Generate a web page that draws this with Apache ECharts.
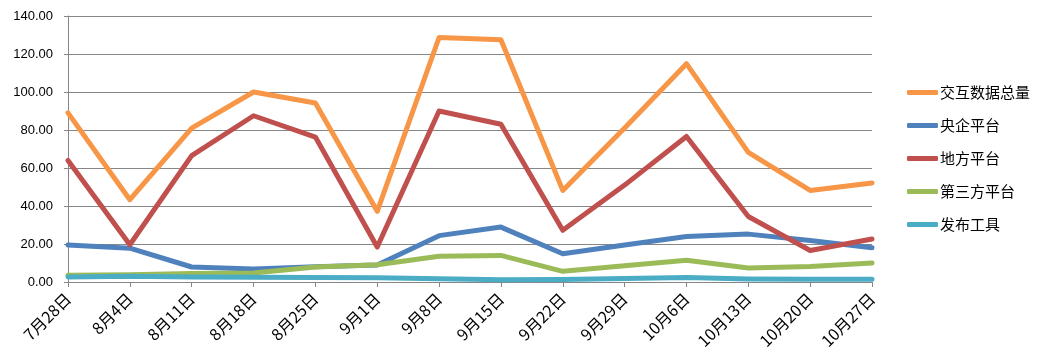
<!DOCTYPE html>
<html>
<head>
<meta charset="utf-8">
<script src="https://cdn.jsdelivr.net/npm/echarts@6/dist/echarts.min.js"></script>
<style>
html,body{margin:0;padding:0;background:#fff;}
#chart{width:1039px;height:358px;}
</style>
</head>
<body>
<div id="chart"></div>
<script>
const categories = ['7月28日','8月4日','8月11日','8月18日','8月25日','9月1日','9月8日','9月15日','9月22日','9月29日','10月6日','10月13日','10月20日','10月27日'];
const seriesNames = ['交互数据总量','央企平台','地方平台','第三方平台','发布工具'];
const totalData    = [89, 43.3, 81, 100, 94.2, 37.2, 128.7, 127.5, 48.2, 81, 114.9, 68.2, 48.2, 52.1];
const centralData  = [19.5, 17.8, 7.9, 6.8, 8, 9, 24.4, 28.9, 14.9, 19.5, 24, 25.2, 21.9, 18];
const localData    = [64, 19.6, 66.5, 87.5, 76.3, 18.4, 90, 83, 27.2, 51, 76.6, 34.5, 16.6, 22.6];
const thirdData    = [3.5, 3.8, 4.5, 4.7, 7.9, 9.1, 13.5, 14, 5.6, 8.5, 11.4, 7.4, 8.2, 10];
const toolData     = [2.6, 3, 2.6, 2.5, 2.4, 2.2, 1.7, 1.2, 1.3, 1.8, 2.4, 1.6, 1.5, 1.5];
const yTicks = {min: 0, max: 140, interval: 20};
const colors = ['#F79646', '#4F81BD', '#C0504D', '#9BBB59', '#4BACC6'];

const dataSets = [totalData, centralData, localData, thirdData, toolData];
const chart = echarts.init(document.getElementById('chart'), null, {renderer: 'canvas'});
const font = 'Liberation Sans, Arial, sans-serif';
chart.setOption({
  animation: false,
  color: colors,
  grid: {left: 68, right: 167, top: 16, bottom: 76, containLabel: false},
  legend: {
    orient: 'vertical',
    left: 902,
    top: 80,
    itemWidth: 31,
    itemHeight: 5,
    itemGap: 18,
    icon: 'roundRect',
    textStyle: {fontSize: 15, color: '#000', fontFamily: 'Noto Sans CJK SC, sans-serif', padding: [0,0,0,-3]},
    data: seriesNames
  },
  xAxis: {
    type: 'category',
    data: categories,
    boundaryGap: false,
    axisLine: {show: true, lineStyle: {color: '#868686', width: 1}},
    axisTick: {show: true, length: 5, alignWithLabel: true, lineStyle: {color: '#868686'}},
    axisLabel: {rotate: 45, fontSize: 16, color: '#000', margin: 14, fontFamily: 'Noto Sans CJK SC, sans-serif', interval: 0},
    splitLine: {show: false}
  },
  yAxis: {
    type: 'value',
    min: yTicks.min,
    max: yTicks.max,
    interval: yTicks.interval,
    axisLine: {show: true, lineStyle: {color: '#868686', width: 1}},
    axisTick: {show: true, length: 4, lineStyle: {color: '#868686'}},
    axisLabel: {fontSize: 13, color: '#000', margin: 15, fontFamily: font, formatter: v => v.toFixed(2)},
    splitLine: {show: true, lineStyle: {color: '#868686', width: 1}}
  },
  series: seriesNames.map((name, i) => ({
    name: name,
    type: 'line',
    data: dataSets[i],
    showSymbol: false,
    symbol: 'none',
    lineStyle: {width: 5, color: colors[i], cap: 'round', join: 'round'},
    itemStyle: {color: colors[i]},
    emphasis: {disabled: true}
  }))
});
</script>
</body>
</html>
